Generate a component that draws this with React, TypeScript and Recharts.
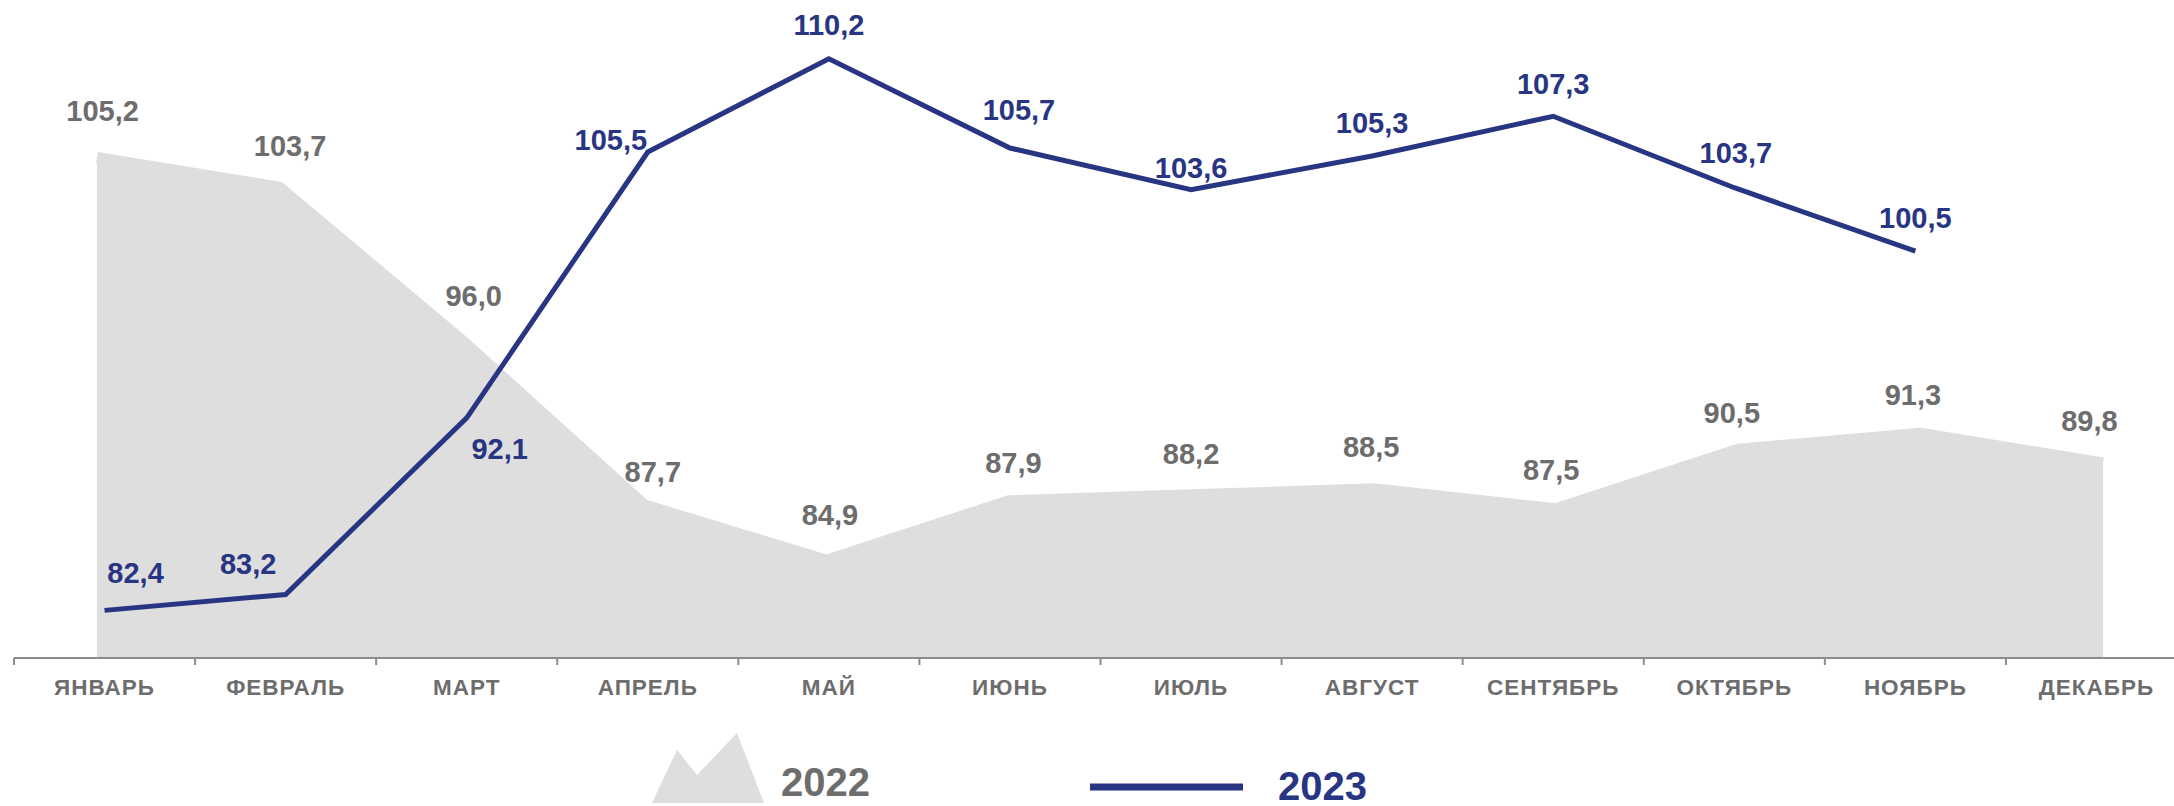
import React from 'react';
import { ComposedChart, Area, Line, XAxis, YAxis, LabelList, Legend } from 'recharts';

const months = ['ЯНВАРЬ', 'ФЕВРАЛЬ', 'МАРТ', 'АПРЕЛЬ', 'МАЙ', 'ИЮНЬ', 'ИЮЛЬ', 'АВГУСТ', 'СЕНТЯБРЬ', 'ОКТЯБРЬ', 'НОЯБРЬ', 'ДЕКАБРЬ'];
const values2022 = [105.2, 103.7, 96.0, 87.7, 84.9, 87.9, 88.2, 88.5, 87.5, 90.5, 91.3, 89.8];
const values2023: (number | null)[] = [82.4, 83.2, 92.1, 105.5, 110.2, 105.7, 103.6, 105.3, 107.3, 103.7, 100.5, null];
const seriesNames = ['2022', '2023'];

// label placement tweaks (style), [dx, dy] of label centre relative to point
const off2023 = [[31, -37.5], [-37.5, -31.5], [33, 31], [-37, -12], [0, -34], [9, -38.5], [0, -22], [0, -33], [0, -33], [1.5, -35.5], [0, -34]];
const off2022 = [[-2, -47], [4.5, -42.5], [7, -45], [5, -34], [1, -46], [3.5, -39], [0, -42], [-1, -43], [-2, -40], [-2.5, -37], [-2.5, -39], [-7, -43.5]];

const W = 2174;
const H = 806;
const NAVY = '#283583';
const GRAY_TEXT = '#6d6d6d';
const AREA = '#dedede';
const AXIS = '#8c8c8c';
const FONT = '"Liberation Sans", Arial, sans-serif';

const data = months.map((m, i) => ({
  x: i + 0.5,
  month: m,
  v2022: values2022[i],
  v2023: values2023[i],
}));

const tickValues = Array.from({ length: months.length * 2 + 1 }, (_, k) => k / 2);

const fmt = (v: number) => v.toFixed(1).replace('.', ',');

const MonthTick = (props: any) => {
  const { x, y, payload } = props;
  const v = payload.value as number;
  if (Number.isInteger(v)) {
    return <line x1={x} x2={x} y1={y} y2={y + 7} stroke={AXIS} strokeWidth={2} />;
  }
  const i = Math.floor(v);
  return (
    <text x={x} y={y + 37} textAnchor="middle" fill={GRAY_TEXT} fontFamily={FONT} fontWeight="bold" fontSize={22.5} letterSpacing={1}>
      {months[i]}
    </text>
  );
};

const makeLabel = (offsets: number[][], color: string) => (props: any) => {
  const { x, y, value, index } = props;
  if (value === null || value === undefined) return null;
  const o = offsets[index] || [0, -34];
  return (
    <text x={x + o[0]} y={y + o[1] + 10.5} textAnchor="middle" fill={color} fontFamily={FONT} fontWeight="bold" fontSize={29}>
      {fmt(value)}
    </text>
  );
};

const renderLegend = () => (
  <svg width={W} height={H} style={{ position: 'absolute', left: 0, top: 0 }}>
    <polygon points="652,803 677,750 697,775 737,733 764,803" fill={AREA} />
    <text x={781} y={796} fill={GRAY_TEXT} fontFamily={FONT} fontWeight="bold" fontSize={40}>{seriesNames[0]}</text>
    <line x1={1090} x2={1243} y1={787} y2={787} stroke={NAVY} strokeWidth={7} />
    <text x={1278} y={800} fill={NAVY} fontFamily={FONT} fontWeight="bold" fontSize={40}>{seriesNames[1]}</text>
  </svg>
);

export default function App() {
  return (
    <div style={{ position: 'absolute', left: 0, top: 0, width: W, height: H, overflow: 'hidden', background: '#fff' }}>
      <ComposedChart width={2190} height={H} data={data} margin={{ top: 23, right: 3, left: 14, bottom: 88 }}>
        <XAxis
          xAxisId="m"
          dataKey="x"
          type="number"
          domain={[0, 12]}
          ticks={tickValues}
          interval={0}
          height={60}
          tickSize={0}
          tickMargin={0}
          tickLine={false}
          axisLine={{ stroke: AXIS, strokeWidth: 2 }}
          tick={<MonthTick />}
        />
        <XAxis xAxisId="a" dataKey="x" type="number" domain={[0.045, 11.961]} allowDataOverflow hide height={0} />
        <YAxis domain={[80, 112]} hide allowDataOverflow />
        <Area
          xAxisId="a"
          dataKey="v2022"
          name={seriesNames[0]}
          type="linear"
          fill={AREA}
          fillOpacity={1}
          stroke={AREA}
          strokeWidth={12}
          strokeLinejoin="round"
          strokeLinecap="butt"
          isAnimationActive={false}
        />
        <Line
          xAxisId="m"
          dataKey="v2023"
          name={seriesNames[1]}
          type="linear"
          stroke={NAVY}
          strokeWidth={5}
          dot={false}
          activeDot={false}
          isAnimationActive={false}
        >
          <LabelList dataKey="v2023" content={makeLabel(off2023, NAVY)} />
        </Line>
        <Line
          xAxisId="m"
          dataKey="v2022"
          legendType="none"
          type="linear"
          stroke="none"
          dot={false}
          activeDot={false}
          isAnimationActive={false}
        >
          <LabelList dataKey="v2022" content={makeLabel(off2022, GRAY_TEXT)} />
        </Line>
        <Legend
          content={renderLegend}
          layout="horizontal"
          verticalAlign="middle"
          wrapperStyle={{ left: 0, top: 0, width: W, height: H, pointerEvents: 'none' }}
        />
      </ComposedChart>
    </div>
  );
}
